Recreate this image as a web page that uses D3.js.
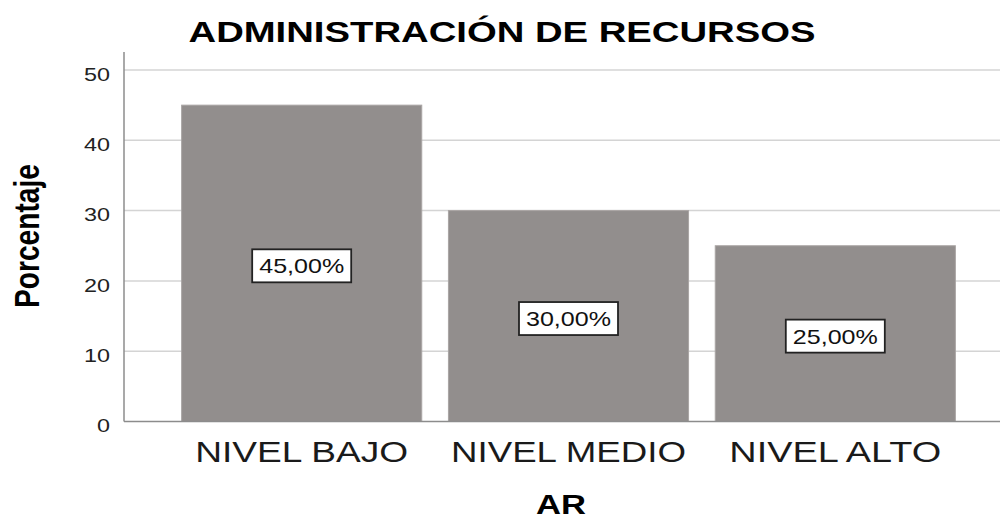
<!DOCTYPE html>
<html>
<head>
<meta charset="utf-8">
<script src="https://cdn.jsdelivr.net/npm/d3@7"></script>
<style>
  body { margin: 0; background: #fff; }
  svg { display: block; font-family: Arial, "Liberation Sans", sans-serif; }
</style>
</head>
<body>
<svg width="1002" height="519"></svg>
<script>
// data
var categories = ["NIVEL BAJO", "NIVEL MEDIO", "NIVEL ALTO"];
var values = [45, 30, 25];
var valueLabels = ["45,00%", "30,00%", "25,00%"];
var yTicks = [0, 10, 20, 30, 40, 50];

var svg = d3.select("svg");

var plotLeft = 124, plotRight = 1000, plotTop = 52, plotBottom = 421.5;

var x = d3.scaleBand()
    .domain(categories)
    .range([plotLeft, 1013])
    .paddingInner(0.1)
    .paddingOuter(0.216);

var y = d3.scaleLinear().domain([0, 52.5]).range([plotBottom, plotBottom - 52.5 * 7.03]);

// grid lines
svg.append("g")
  .selectAll("line")
  .data(yTicks.filter(function(d) { return d > 0; }))
  .enter().append("line")
    .attr("x1", plotLeft)
    .attr("x2", plotRight)
    .attr("y1", function(d) { return y(d); })
    .attr("y2", function(d) { return y(d); })
    .attr("stroke", "#d4d4d4")
    .attr("stroke-width", 1.5);

// bars
svg.append("g")
  .selectAll("rect")
  .data(values)
  .enter().append("rect")
    .attr("x", function(d, i) { return x(categories[i]); })
    .attr("width", x.bandwidth())
    .attr("y", function(d) { return y(d); })
    .attr("height", function(d) { return plotBottom - y(d); })
    .attr("fill", "#928e8d")
    .attr("stroke", "#a9a5a4")
    .attr("stroke-width", 1);

// y axis
var yAxis = svg.append("g")
    .attr("transform", "translate(" + plotLeft + ",0)")
    .call(d3.axisLeft(y).tickValues(yTicks).tickSize(0).tickPadding(14));
yAxis.select(".domain").remove();
yAxis.selectAll("text")
    .attr("dy", "0.32em")
    .attr("y", 4.5)
    .style("font-size", "18px")
    .style("font-family", "Arial, 'Liberation Sans', sans-serif")
    .attr("fill", "#222")
    .attr("textLength", function(d) { return String(d).length * 13; })
    .attr("lengthAdjust", "spacingAndGlyphs");

// axis lines
svg.append("line")
    .attr("x1", plotLeft).attr("x2", plotLeft)
    .attr("y1", plotTop).attr("y2", plotBottom)
    .attr("stroke", "#8c8c8c").attr("stroke-width", 1.5);
svg.append("line")
    .attr("x1", plotLeft).attr("x2", plotRight)
    .attr("y1", plotBottom).attr("y2", plotBottom)
    .attr("stroke", "#8c8c8c").attr("stroke-width", 1.5);

// x axis labels
var xAxis = svg.append("g")
    .attr("transform", "translate(0," + plotBottom + ")")
    .call(d3.axisBottom(x).tickSize(0).tickPadding(0));
xAxis.select(".domain").remove();
var xLabelWidths = [213, 235, 212];
xAxis.selectAll("text")
    .attr("y", 40)
    .attr("dy", 0)
    .style("font-size", "30px")
    .style("font-family", "Arial, 'Liberation Sans', sans-serif")
    .attr("fill", "#1a1a1a")
    .attr("textLength", function(d, i) { return xLabelWidths[i]; })
    .attr("lengthAdjust", "spacingAndGlyphs");

// value label boxes
var labels = svg.append("g")
  .selectAll("g")
  .data(values)
  .enter().append("g")
    .attr("transform", function(d, i) {
      return "translate(" + (x(categories[i]) + x.bandwidth() / 2) + "," + (y(d / 2) + 2.5) + ")";
    });
labels.append("rect")
    .attr("x", -49.5).attr("y", -16.5)
    .attr("width", 99).attr("height", 33)
    .attr("fill", "#fff")
    .attr("stroke", "#222")
    .attr("stroke-width", 1.8);
labels.append("text")
    .attr("text-anchor", "middle")
    .attr("y", 7.5)
    .style("font-size", "21px")
    .attr("fill", "#111")
    .attr("textLength", 85)
    .attr("lengthAdjust", "spacingAndGlyphs")
    .text(function(d, i) { return valueLabels[i]; });

// title
svg.append("text")
    .attr("x", 502)
    .attr("y", 42)
    .attr("text-anchor", "middle")
    .style("font-size", "29px")
    .style("font-weight", "bold")
    .attr("textLength", 627)
    .attr("lengthAdjust", "spacingAndGlyphs")
    .text("ADMINISTRACIÓN DE RECURSOS");

// x axis title
svg.append("text")
    .attr("x", 561)
    .attr("y", 514)
    .attr("text-anchor", "middle")
    .style("font-size", "27px")
    .style("font-weight", "bold")
    .attr("textLength", 50)
    .attr("lengthAdjust", "spacingAndGlyphs")
    .text("AR");

// y axis title
svg.append("text")
    .attr("transform", "translate(39,236) scale(1.23,1) rotate(-90)")
    .attr("text-anchor", "middle")
    .style("font-size", "28px")
    .style("font-weight", "bold")
    .attr("textLength", 144)
    .attr("lengthAdjust", "spacingAndGlyphs")
    .text("Porcentaje");
</script>
</body>
</html>
